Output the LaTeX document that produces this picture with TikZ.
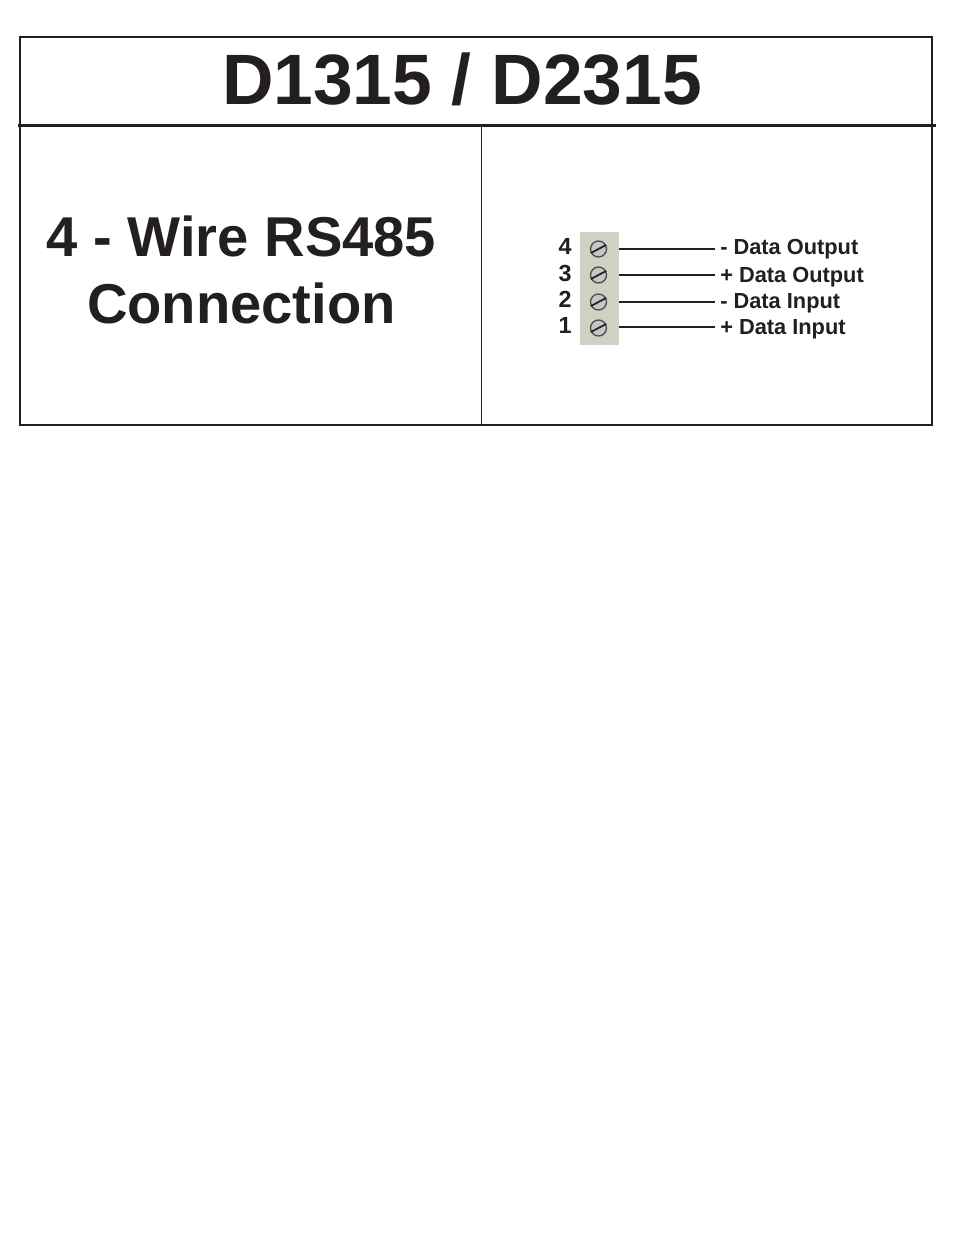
\documentclass[tikz,border=0pt]{standalone}
\usepackage{fontspec}
\setmainfont{Liberation Sans}
\usetikzlibrary{positioning}
\definecolor{inkblack}{RGB}{35,31,32}
\definecolor{blockgray}{RGB}{208,209,196}
\tikzset{
    framerule/.style={draw=inkblack, line width=1.5pt},
    wire/.style={draw=inkblack, line width=1.5pt},
    pinnum/.style={text=inkblack, font=\fontsize{17.5}{20}\selectfont\bfseries, inner sep=0pt},
    wirelabel/.style={text=inkblack, font=\fontsize{16.35}{19}\selectfont\bfseries, inner sep=0pt, anchor=west},
    screwhead/.style={circle, draw=inkblack!80, line width=1pt, minimum size=12pt, inner sep=0pt, fill=gray!45}
}
\begin{document}
\begin{tikzpicture}[x=0.75pt, y=-0.75pt]
    \useasboundingbox (0,0) rectangle (954,1235);
    \fill[white] (0,0) rectangle (954,1235);
    % frame
    \coordinate (tl) at (20,36.5);
    \coordinate (tr) at (932,36.5);
    \coordinate (bl) at (20,425);
    \coordinate (br) at (932,425);
    \coordinate (ml) at (18,125.5);
    \coordinate (mr) at (936,125.5);
    \coordinate (vt) at (481,125.5);
    \coordinate (vb) at (481,425);
    \draw[framerule] (tl) -- (tr) -- (br) -- (bl) -- cycle;
    \draw[draw=inkblack, line width=2.2pt] (ml) -- (mr);
    \draw[draw=inkblack, line width=.6pt] (vt) -- (vb);
    % titles
    \node[text=inkblack, font=\fontsize{53.5}{60}\selectfont\bfseries, inner sep=0pt] (title) at (462,79) {D1315 / D2315};
    \node[text=inkblack, font=\fontsize{42.1}{50.5}\selectfont\bfseries, inner sep=0pt, align=center] (subtitle) at (241.5,270) {4 - Wire RS485\\Connection};
    % terminal block
    \fill[blockgray] (580,232) rectangle (619,345);
    \foreach \n/\ys/\yw/\yn/\ylab/\lab in {4/249/249/246/249/{- Data Output},
                                           3/275/275/273/277/{+ Data Output},
                                           2/302/302/299/303/{- Data Input},
                                           1/328/327/325/329/{+ Data Input}}{
        \node[screwhead] (s\n) at (598.5,\ys) {};
        \draw[draw=inkblack, line width=1.3pt] (s\n.208) -- (s\n.28);
        \node[pinnum] (p\n) at (565,\yn) {\n};
        \node[wirelabel] (l\n) at (720,\ylab) {\lab};
        \coordinate (w\n) at (619,\yw);
        \coordinate (e\n) at (715,\yw);
        \draw[wire] (w\n) -- (e\n);
    }
\end{tikzpicture}
\end{document}
